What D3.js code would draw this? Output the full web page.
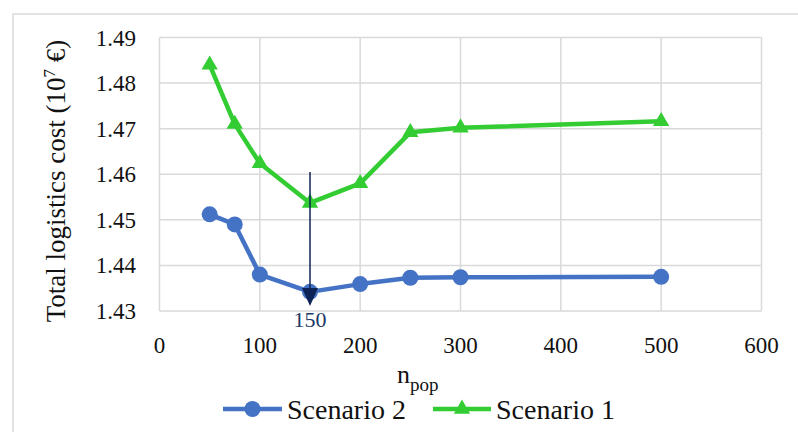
<!DOCTYPE html>
<html><head><meta charset="utf-8">
<script src="https://cdn.jsdelivr.net/npm/d3@7"></script>
<style>body{margin:0;background:#fff}svg{display:block}</style>
</head><body><svg id="c" width="798" height="432"></svg>
<script>
const nPop = [50, 75, 100, 150, 200, 250, 300, 500];
const scenario2 = [1.4512, 1.4490, 1.4380, 1.4342, 1.4359, 1.4373, 1.4374, 1.4375];
const scenario1 = [1.4840, 1.4710, 1.4624, 1.4537, 1.4580, 1.4692, 1.4702, 1.4716];
const xTicks = [0, 100, 200, 300, 400, 500, 600];
const yTicks = [1.43, 1.44, 1.45, 1.46, 1.47, 1.48, 1.49];
const arrowX = 150, arrowFrom = 1.4605, arrowTo = 1.4311, arrowLabel = "150";

const FONT = "'Liberation Serif', 'DejaVu Serif', serif";
const svg = d3.select("#c").attr("font-family", FONT);
svg.append("rect").attr("x",13).attr("y",14).attr("width",800).attr("height",430)
  .attr("fill","#fff").attr("stroke","#d9d9d9").attr("stroke-width",1.5);

const L=159.5, R=761.5, T=37.5, B=311;
const x = d3.scaleLinear().domain([0,600]).range([L,R]);
const y = d3.scaleLinear().domain([1.43,1.49]).range([B,T]);

const g = svg.append("g");
g.selectAll("line.v").data(xTicks).join("line").attr("x1",d=>x(d)).attr("x2",d=>x(d))
  .attr("y1",T).attr("y2",B).attr("stroke","#d9d9d9").attr("stroke-width",1.5);
g.selectAll("line.h").data(yTicks).join("line").attr("x1",L).attr("x2",R)
  .attr("y1",d=>y(d)).attr("y2",d=>y(d)).attr("stroke","#d9d9d9").attr("stroke-width",1.5);

g.selectAll("text.xt").data(xTicks).join("text").attr("x",d=>x(d)).attr("y",353)
  .attr("text-anchor","middle").attr("font-size",23).attr("fill","#111").text(d=>d);
g.selectAll("text.yt").data(yTicks).join("text").attr("x",136).attr("y",d=>y(d)+8)
  .attr("text-anchor","end").attr("font-size",23).attr("fill","#111").text(d=>d.toFixed(2));

const yt = svg.append("text").attr("transform","translate(65,181) rotate(-90)")
  .attr("text-anchor","middle").attr("font-size",27).attr("fill","#111");
yt.append("tspan").text("Total logistics cost (10");
yt.append("tspan").attr("font-size",17).attr("dy",-10).text("7");
yt.append("tspan").attr("dy",10).text(" €)");

const xt = svg.append("text").attr("x",397).attr("y",383).attr("font-size",26).attr("fill","#111");
xt.append("tspan").text("n");
xt.append("tspan").attr("font-size",19).attr("dy",8).text("pop");

const line = d3.line().x(d=>x(d[0])).y(d=>y(d[1]));
const blue="#4472C4", green="#33CC33", navy="#0f2456";
const d2 = nPop.map((v,i)=>[v,scenario2[i]]);
const d1 = nPop.map((v,i)=>[v,scenario1[i]]);

svg.append("path").datum(d2).attr("d",line).attr("fill","none").attr("stroke",blue).attr("stroke-width",4.5).attr("stroke-linejoin","round");
svg.selectAll("circle.s2").data(d2).join("circle").attr("cx",d=>x(d[0])).attr("cy",d=>y(d[1])).attr("r",8).attr("fill",blue);
svg.append("path").datum(d1).attr("d",line).attr("fill","none").attr("stroke",green).attr("stroke-width",4.5).attr("stroke-linejoin","round");
const tri = d3.symbol().type(d3.symbolTriangle).size(115);
svg.selectAll("path.s1").data(d1).join("path").attr("d",tri)
  .attr("transform",d=>`translate(${x(d[0])},${y(d[1])})`).attr("fill",green);

const ax = x(arrowX), ay1 = y(arrowFrom), ay2 = y(arrowTo);
svg.append("line").attr("x1",ax).attr("x2",ax).attr("y1",ay1).attr("y2",ay2-10).attr("stroke",navy).attr("stroke-width",1.5);
svg.append("path").attr("d",`M${ax-8},${ay2-18}L${ax+8},${ay2-18}L${ax},${ay2}Z`).attr("fill",navy);
svg.append("text").attr("x",ax).attr("y",327).attr("text-anchor","middle").attr("font-size",22).attr("fill","#203864").text(arrowLabel);

const lg = svg.append("g");
const ly = 409;
lg.append("line").attr("x1",223).attr("x2",282).attr("y1",ly).attr("y2",ly).attr("stroke",blue).attr("stroke-width",4.5);
lg.append("circle").attr("cx",252.5).attr("cy",ly).attr("r",8).attr("fill",blue);
lg.append("text").attr("x",287).attr("y",419).attr("font-size",28).attr("fill","#111").text("Scenario 2");
lg.append("line").attr("x1",433).attr("x2",491).attr("y1",ly).attr("y2",ly).attr("stroke",green).attr("stroke-width",4.5);
lg.append("path").attr("d",tri).attr("transform",`translate(462,${ly})`).attr("fill",green);
lg.append("text").attr("x",496).attr("y",419).attr("font-size",28).attr("fill","#111").text("Scenario 1");
</script></body></html>
